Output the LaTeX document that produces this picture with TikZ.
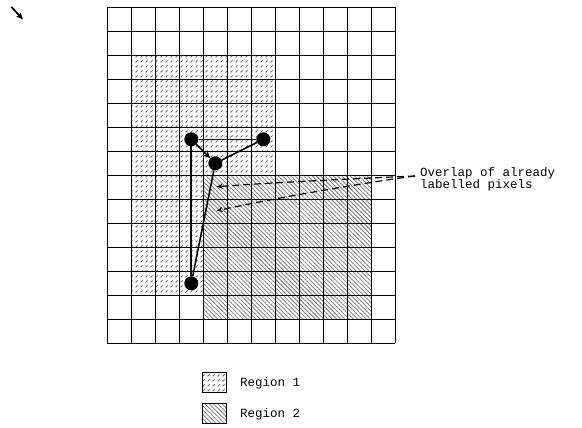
\documentclass[tikz,border=0pt]{standalone}
\usepackage{fontspec}
\newfontfamily\cour{Liberation Mono}
\usetikzlibrary{arrows.meta,patterns,patterns.meta}
\tikzdeclarepattern{
  name=rone,
  type=colored,
  bounding box={(0pt,0pt) and (4.5pt,4.5pt)},
  tile size={(4.5pt,4.5pt)},
  code={\draw[black!60, line width=0.8pt] (0.6pt,0.6pt) -- (2.9pt,2.9pt);}
}
\tikzset{
  gridl/.style={line width=0.9pt, black},
  regone/.style={pattern=rone},
  regtwo/.style={pattern={Lines[angle=-45,distance=3pt,line width=0.75pt]}, pattern color=black!55},
  dot/.style={circle, fill=black, minimum size=14pt, inner sep=0pt},
  edge/.style={line width=1.5pt, black},
  dasharrow/.style={line width=1.2pt, dash pattern=on 7pt off 4pt, -{Stealth[length=6pt,width=5pt]}},
  lbl/.style={font=\cour\fontsize{12.5}{12}\selectfont, inner sep=0pt},
  legbox/.style={draw=black, line width=0.7pt, minimum width=24pt, minimum height=19.5pt, inner sep=0pt}
}
\begin{document}
\begin{tikzpicture}[x=1pt,y=-1pt]
\useasboundingbox (0,0) rectangle (582,428);
% regions
\fill[regone] (131.3,55.3) rectangle (275.3,295.3);
\fill[white] (203.3,175.3) rectangle (371.3,319.3);
\fill[regtwo] (203.3,175.3) rectangle (371.3,319.3);
% grid
\foreach \i in {0,...,12} \draw[gridl] ({107.3+24*\i},7.3) -- ({107.3+24*\i},343.3);
\foreach \j in {0,...,14} \draw[gridl] (107.3,{7.3+24*\j}) -- (395.3,{7.3+24*\j});
% top-left arrow
\coordinate (p1) at (11.5,7);
\coordinate (p2) at (23,19.5);
\draw[line width=1.8pt, -{Stealth[length=7pt,width=6pt]}] (p1) -- (p2);
% dots
\node[dot] (A) at (191.3,139.3) {};
\node[dot] (B) at (263.3,139.3) {};
\node[dot] (C) at (215.3,163.3) {};
\node[dot] (D) at (191.3,283.3) {};
\draw[edge] (A) -- (B);
\draw[edge] (B) -- (C);
\draw[edge] (C) -- (D);
\draw[edge, line width=2pt] (A) -- (D);
\draw[edge, -{Stealth[length=7pt,width=6.5pt]}] (A) -- (C);
% label and dashed arrows
\node[lbl, align=left, anchor=west] (lab) at (420,179) {Overlap of already\\labelled pixels};
\coordinate (s) at (415,176);
\coordinate (t1) at (216.7,186.7);
\coordinate (t2) at (216.7,210.7);
\draw[dasharrow] (s) .. controls (360,178.5) and (280,182) .. (t1);
\draw[dasharrow] (s) .. controls (385,180) and (300,193) .. (t2);
% legend
\node[legbox, regone] (k1) at (214.8,382.3) {};
\node[legbox, regtwo] (k2) at (214.8,413.3) {};
\node[lbl, anchor=west] (l1) at (240,383) {Region 1};
\node[lbl, anchor=west] (l2) at (240,414) {Region 2};
\end{tikzpicture}
\end{document}
